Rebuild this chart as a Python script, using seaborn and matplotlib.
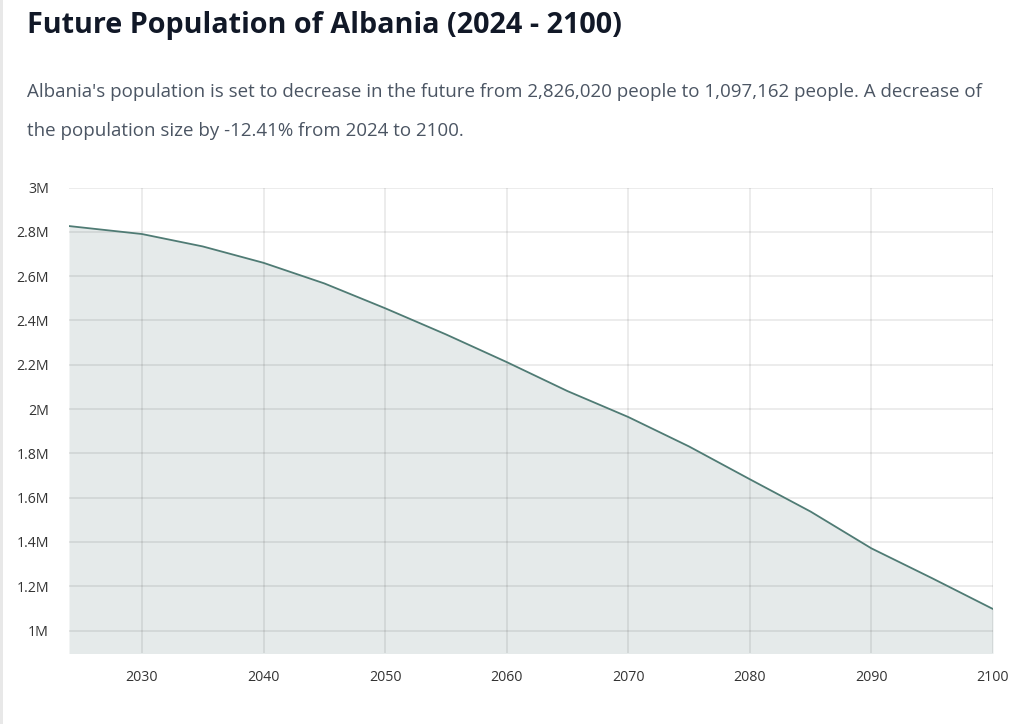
import matplotlib
matplotlib.use("Agg")
import matplotlib.pyplot as plt
import matplotlib.patches as mpatches
from matplotlib.ticker import FuncFormatter
import seaborn as sns
import pandas as pd

# --- data ---
years = [2024, 2025, 2030, 2035, 2040, 2045, 2050, 2055, 2060, 2065,
         2070, 2075, 2080, 2085, 2090, 2095, 2100]
population = [2826020, 2820000, 2790000, 2734000, 2660000, 2567000, 2455000,
              2337000, 2212000, 2081000, 1964000, 1831000, 1683000, 1537000,
              1371000, 1236000, 1097162]

title = "Future Population of Albania (2024 - 2100)"
subtitle_1 = ("Albania's population is set to decrease in the future from "
              "2,826,020 people to 1,097,162 people. A decrease of")
subtitle_2 = "the population size by -12.41% from 2024 to 2100."

df = pd.DataFrame({"Year": years, "Population": population})

sns.set_style("white")
plt.rcParams["font.family"] = ["Open Sans", "DejaVu Sans"]

line_color = "#4f7b74"
fill_color = "#e5eaea"

fig = plt.figure(figsize=(10.24, 7.24), dpi=100)
ax = fig.add_axes([0.0674, 0.0985, 0.9023, 0.6425])

ax.fill_between(df["Year"], df["Population"], 0, color=fill_color, linewidth=0, zorder=1)
sns.lineplot(data=df, x="Year", y="Population", color=line_color, linewidth=1.3, ax=ax, zorder=3)

ax.set_xlim(2024, 2100)
ax.set_ylim(900000, 3000000)
ax.set_xticks(range(2030, 2101, 10))
ax.set_yticks([i * 200000 for i in range(5, 16)])
ax.yaxis.set_major_formatter(FuncFormatter(lambda v, p: f"{v / 1e6:g}M"))

# grid sits on top of the shaded area, like the reference
ax.set_axisbelow(False)
ax.grid(True, color="#000000", alpha=0.09, linewidth=1.2)
ax.tick_params(axis="y", length=9.4, width=1.2, color="#ebebeb", pad=5,
               labelsize=10.2, labelcolor="#333333")
ax.tick_params(axis="x", length=8.6, width=1.2, color="#ebebeb", pad=4,
               labelsize=10.2, labelcolor="#333333")
for s in ax.spines.values():
    s.set_visible(False)
ax.set_xlabel("")
ax.set_ylabel("")

fig.text(27 / 1024, 1 - 25 / 724, title, fontsize=20.7, fontweight="bold",
         color="#111827", va="center", ha="left")
fig.text(27 / 1024, 1 - 92 / 724, subtitle_1, fontsize=13.52,
         color="#4b5563", va="center", ha="left")
fig.text(27 / 1024, 1 - 131 / 724, subtitle_2, fontsize=13.52,
         color="#4b5563", va="center", ha="left")

# thin page border on the left edge
fig.patches.append(mpatches.Rectangle((0, 0), 3 / 1024, 1, transform=fig.transFigure,
                                      facecolor="#e8e8e8", edgecolor="none"))

fig.savefig("out.png", dpi=100)
